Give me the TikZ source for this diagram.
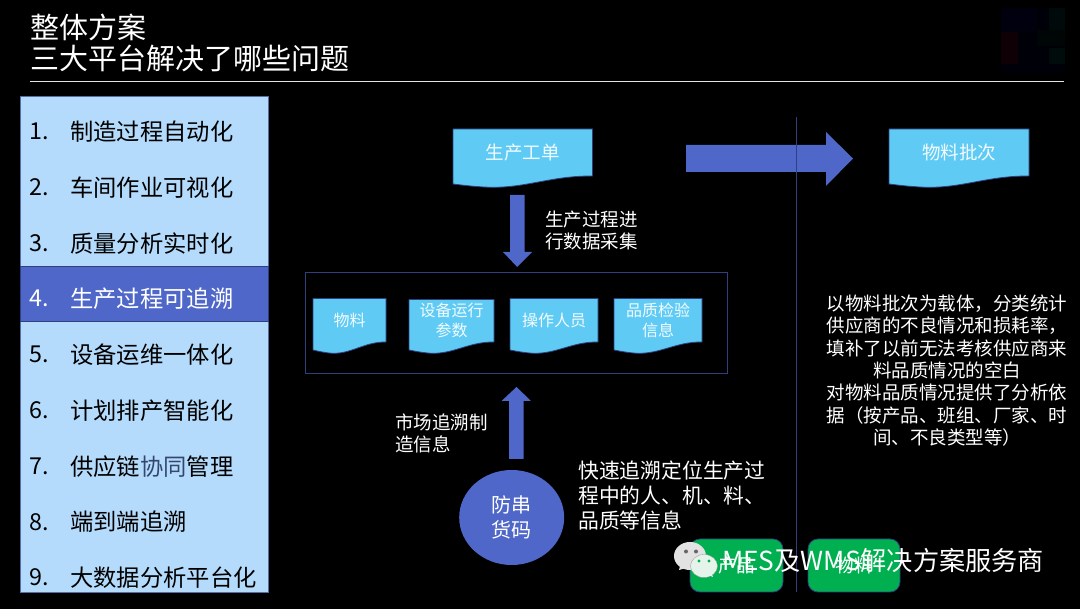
\documentclass[tikz,border=0pt]{standalone}
\usepackage{fontspec}
\usetikzlibrary{shapes.geometric}
\setmainfont{Noto Sans CJK SC}
\definecolor{panel}{HTML}{B4DBFB}
\definecolor{hilite}{HTML}{4F67C8}
\definecolor{rim}{HTML}{2F3F7F}
\definecolor{docfill}{HTML}{5FCBF5}
\definecolor{btn}{HTML}{00B050}
\definecolor{wmA}{HTML}{E2E2E2}
\definecolor{wmB}{HTML}{E4F4EA}
\definecolor{mute}{HTML}{34486E}
\newcommand{\fs}[2]{\fontsize{#1}{#2}\selectfont}
% name, left, top, right, right-bottom y, left-bottom y, text, size
\newcommand{\docbox}[8]{%
  \draw[docline] (#2,#3) -- (#4,#3) -- (#4,#5)
    .. controls ({#4-0.30*(#4-#2)},{#5-0.3}) and ({#2+0.52*(#4-#2)},{#6+4.5}) .. ({#2+0.25*(#4-#2)},{#6+3.2})
    .. controls ({#2+0.14*(#4-#2)},{#6+2.5}) and ({#2+0.06*(#4-#2)},{#6+1}) .. (#2,#6) -- cycle;
  \node[doclabel,font=\fs{#8}{20}] (#1) at ({(#2+#4)/2},{(#3+#5)/2}) {#7};
}
\tikzset{
  x=1pt,y=-1pt,
  docline/.style={fill=docfill,draw=rim,line width=0.8pt},
  doclabel/.style={text=white!92!docfill,align=center,inner sep=0pt},
  item/.style={anchor=west,inner sep=0pt,font=\fs{23.3}{28}},
  blockarrow/.style={fill=hilite,draw=none},
  caption/.style={text=white,inner sep=0pt,anchor=west,align=left},
  greenbtn/.style={fill=btn,draw=rim,line width=0.8pt,rounded corners=10pt,minimum width=93pt,minimum height=53pt,inner sep=0pt,text=white,font=\fs{18.5}{22}},
}
\begin{document}
\begin{tikzpicture}
\useasboundingbox (0,0) rectangle (1080,609);
\fill[black] (0,0) rectangle (1080,609);
% faint logo
\fill[blue!3!black] (1001,8) rectangle (1065,73);
\fill[blue!6!black] (1001,8) rectangle (1037,31);
\fill[teal!8!black] (1049,8) rectangle (1065,32);
\fill[teal!5!black] (1037,30) rectangle (1065,46);
\fill[purple!7!black] (1001,32) rectangle (1018,64);
\fill[teal!9!black] (1049,48) rectangle (1065,64);
% title
\node[caption,font=\fs{29}{31}] (title1) at (30,27) {整体方案};
\node[caption,font=\fs{29}{31}] (title2) at (30,58) {三大平台解决了哪些问题};
\draw[white!90!black,line width=0.8pt] (30,81) -- (1064,81);
% left panel
\filldraw[fill=panel,draw=rim!70!panel,line width=0.7pt] (20,96) rectangle (268,592);
\filldraw[fill=hilite,draw=rim,line width=0.7pt] (20,266.5) rectangle (268,321.5);
\foreach \nm/\yy/\tx in {1/131.5/制造过程自动化,2/187.5/车间作业可视化,3/243.5/质量分析实时化,5/354.5/设备运维一体化,6/410.5/计划排产智能化,8/522/端到端追溯,9/577.5/大数据分析平台化}{
  \node[item] (n\nm) at (29,\yy) {\nm.};
  \node[item] (t\nm) at (70,\yy) {\tx};
}
\node[item,text=white] (n4) at (29,298.5) {4.};
\node[item,text=white] (t4) at (70,298.5) {生产过程可追溯};
\node[item] (n7) at (29,466.5) {7.};
\node[item] (t7) at (70,466.5) {供应链\textcolor{mute}{协同}管理};
% top row
\docbox{gd}{453}{129}{592.5}{176}{184}{生产工单}{18.5}
\docbox{pc}{889}{129}{1029}{176}{184}{物料批次}{18.5}
% group
\draw[rim,line width=0.8pt] (305,272.5) rectangle (727.5,373.5);
\docbox{a}{313}{298.5}{386}{342}{350}{物料}{16}
\docbox{b}{409}{299.5}{494}{342}{350}{设备运行\\参数}{16}
\docbox{c}{510}{298.5}{598}{342}{350}{操作人员}{16}
\docbox{d}{614}{298.5}{702}{342}{350}{品质检验\\信息}{16}
% block arrows
\fill[blockarrow] (510,195) -- (524.5,195) -- (524.5,252) -- (532,252) -- (517.2,267) -- (503,252) -- (510,252) -- cycle;
\fill[blockarrow] (686,145) -- (826,145) -- (826,132) -- (853,158.5) -- (826,186) -- (826,172) -- (686,172) -- cycle;
\fill[blockarrow] (509,459) -- (523.5,459) -- (523.5,401) -- (531,401) -- (516.5,387) -- (501.5,401) -- (509,401) -- cycle;
\draw[rim,line width=0.9pt] (796,117) -- (796,592);
% captions
\node[caption,font=\fs{18.5}{22}] (c1) at (545,230.5) {生产过程进\\行数据采集};
\node[caption,font=\fs{18.5}{22}] (c2) at (395,433.5) {市场追溯制\\造信息};
\node[caption,font=\fs{20.8}{25}] (c3) at (578,496) {快速追溯定位生产过\\程中的人、机、料、\\品质等信息};
\node[text=white,align=center,inner sep=0pt,font=\fs{18.5}{22.3}] (c4) at (947,370.5) {以物料批次为载体，分类统计\\供应商的不良情况和损耗率，\\填补了以前无法考核供应商来\\料品质情况的空白\\对物料品质情况提供了分析依\\据（按产品、班组、厂家、时\\间、不良类型等）};
\node[ellipse,fill=hilite,minimum width=105pt,minimum height=95pt,inner sep=0pt,text=white,align=center,font=\fs{20}{25}] (fc) at (511.7,517.5) {防串\\货码};
% buttons
\node[greenbtn] (b1) at (736.5,565.5) {\raisebox{-3pt}{产品}};
\node[greenbtn,minimum width=92pt] (b2) at (854,565.5) {\raisebox{-3pt}{物料}};
% watermark
\fill[wmA] (690,556) ellipse (16pt and 14pt);
\fill[wmA] (680,566) -- (679,570) -- (686,568) -- cycle;
\fill[black!60] (686,551.5) circle (2pt);
\fill[black!60] (696,551.5) circle (2pt);
\filldraw[fill=wmB,draw=black!40,line width=0.3pt] (704,566) ellipse (13.5pt and 11.5pt);
\fill[wmB] (708,575) -- (713,577) -- (711,572) -- cycle;
\fill[btn] (699,561) circle (1.7pt);
\fill[btn] (709,561) circle (1.7pt);
\node[inner sep=0pt,anchor=west,text=white,font=\fs{26.2}{30}] (wm) at (722,561) {MES及WMS解决方案服务商};
\end{tikzpicture}
\end{document}
